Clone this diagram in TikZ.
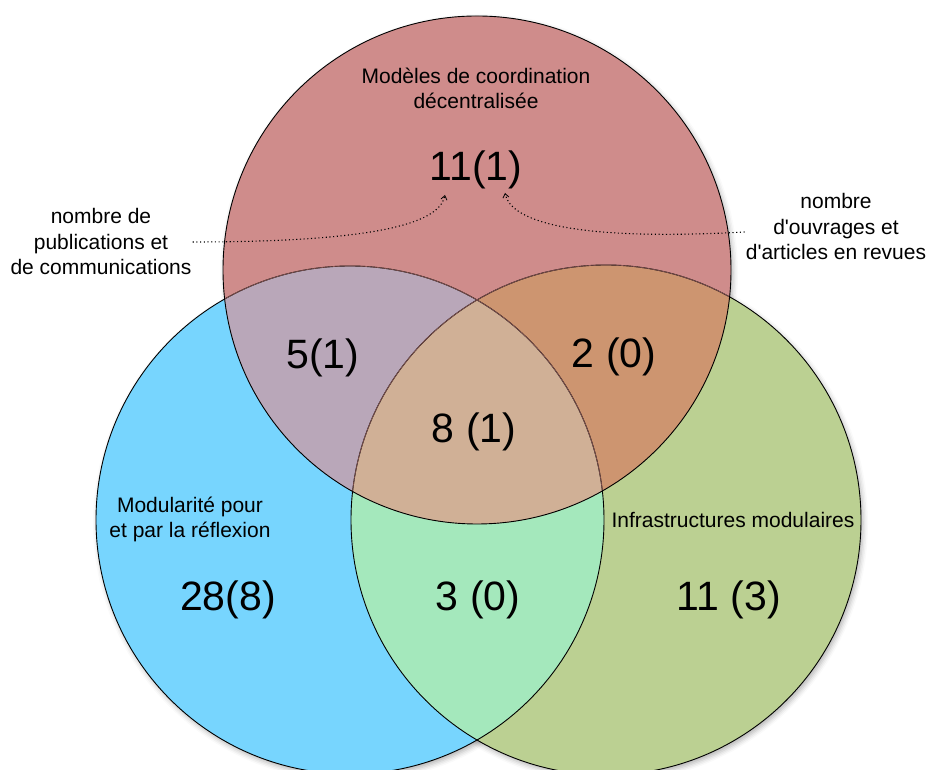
\documentclass[tikz,border=0pt]{standalone}
\usepackage{fontspec}
\setmainfont{Liberation Sans}[Ligatures=TeXOff]
\usetikzlibrary{shadows.blur,arrows.meta}
\definecolor{cred}{HTML}{CF8C8B}
\definecolor{cblue}{HTML}{77D5FE}
\definecolor{cgreen}{HTML}{BBD092}
\definecolor{cpurple}{HTML}{B9A7B9}
\definecolor{corange}{HTML}{CD9570}
\definecolor{ctan}{HTML}{D0B096}
\definecolor{cbluegreen}{HTML}{A4E8BC}
\definecolor{cinner}{HTML}{8E5A58}
\begin{document}
\begin{tikzpicture}[x=1pt,y=1pt,
  setlabel/.style={font=\fontsize{21}{25.5}\selectfont, align=center, inner sep=1pt},
  count/.style={font=\fontsize{41}{44}\selectfont, inner sep=0pt},
  outline/.style={line width=0.9pt},
  softshadow/.style={blur shadow={shadow xshift=2pt, shadow yshift=-3pt,
      shadow blur radius=5pt, shadow opacity=30}},
  pointer/.style={dash pattern=on 1.1pt off 2.6pt, line width=1.1pt,
      -{Straight Barb[length=4pt,width=6pt,line width=0.8pt]}}]
\useasboundingbox (0,0) rectangle (927,770);

% circle centres
\coordinate (R) at (477,500);
\coordinate (B) at (350,250);
\coordinate (G) at (606,250);
\def\vr{254}
\def\vg{255}

% soft shadows beneath the three sets
\path[softshadow] (B) circle[radius=\vr];
\path[softshadow] (G) circle[radius=\vg];
\path[softshadow] (R) circle[radius=\vr];

% base fills
\fill[cblue] (B) circle[radius=\vr];
\fill[cgreen] (G) circle[radius=\vg];
\fill[cred] (R) circle[radius=\vr];

% blue and green overlap
\begin{scope}
  \clip (B) circle[radius=\vr];
  \fill[cbluegreen] (G) circle[radius=\vg];
\end{scope}

% overlaps with the top set
\begin{scope}
  \clip (R) circle[radius=\vr];
  \fill[cpurple] (B) circle[radius=\vr];
  \fill[corange] (G) circle[radius=\vg];
  \clip (B) circle[radius=\vr];
  \fill[ctan] (G) circle[radius=\vg];
\end{scope}

% outlines
\draw[outline] (B) circle[radius=\vr];
\draw[outline] (G) circle[radius=\vg];
\begin{scope}
  \clip (R) circle[radius=\vr];
  \draw[outline, cinner, line width=0.6pt] (B) circle[radius=\vr];
  \draw[outline, cinner, line width=0.6pt] (G) circle[radius=\vg];
\end{scope}
\draw[outline] (R) circle[radius=\vr];

% set titles
\node[setlabel] (tR) at (476,681.5) {Modèles de coordination\\décentralisée};
\node[setlabel] (tB) at (190,250.5) {Modularité pour\\et par la réflexion};
\node[setlabel] (tG) at (733,250) {Infrastructures modulaires};

% counts
\node[count] (nR)   at (476,600) {11(1)};
\node[count] (nRB)  at (323,412) {5(1)};
\node[count] (nRG)  at (614,413) {2 (0)};
\node[count] (nRBG) at (474,338) {8 (1)};
\node[count] (nB)   at (228,170) {28(8)};
\node[count] (nBG)  at (478,170) {3 (0)};
\node[count] (nG)   at (729,170) {11 (3)};

% legend notes
\node[setlabel] (lblL) at (101,528) {nombre de\\publications et\\de communications};
\node[setlabel] (lblR) at (836,543) {nombre\\d'ouvrages et\\d'articles en revues};

\coordinate (tipL) at (445,575);
\coordinate (tipR) at (505,577);
\draw[pointer] (lblL.east) .. controls (400,528) and (440,552) .. (tipL);
\draw[pointer] ([yshift=-5pt]lblR.west) .. controls (560,528) and (510,552) .. (tipR);
\end{tikzpicture}
\end{document}
